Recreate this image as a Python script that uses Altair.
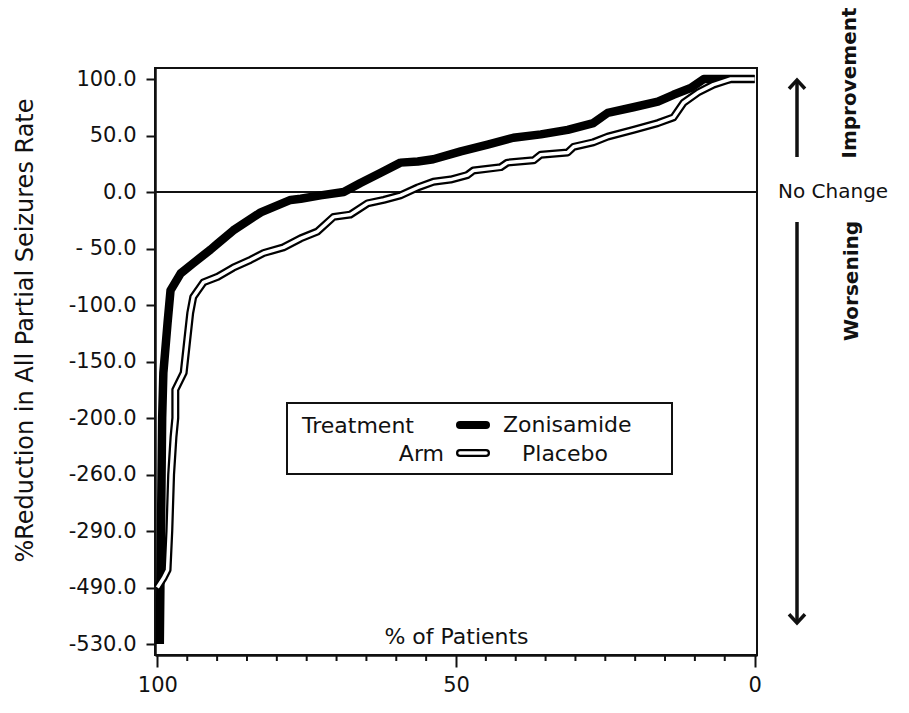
import altair as alt
import pandas as pd

# ---- data: % of patients (x) vs % reduction in seizure rate (y)
zon_x = [99.6, 99.5, 99.4, 99.3, 99.2, 99.0, 98.3, 97.8, 96.1, 94.0, 91.1, 90.0, 87.3, 82.7,
         77.7, 76.0, 72.7, 68.8, 66.0, 62.6, 59.3, 56.4, 53.8, 49.2, 44.7, 40.4, 35.8, 31.3,
         27.0, 24.6, 20.3, 16.2, 13.6, 10.7, 8.5, 0]
zon_y = [-530, -490, -290, -260, -200, -160, -116, -87, -72, -63, -51, -46, -34, -18,
         -7, -6, -3, 0, 8, 17, 26, 27, 29, 36, 42, 48, 51, 55,
         61, 70, 75, 80, 86, 92, 100, 100]

pla_x = [100, 99.0, 98.3, 98.0, 97.7, 97.3, 97.0, 97.0, 95.6, 95.0, 94.5, 94.0, 92.3, 89.9,
         87.3, 84.4, 82.2, 78.9, 76.0, 73.2, 70.5, 67.7, 64.8, 62.1, 59.3, 56.4, 53.8, 50.9,
         48.1, 47.1, 42.5, 41.4, 37.0, 35.8, 31.3, 30.3, 27.0, 24.6, 20.3, 16.2, 13.6, 11.9,
         9.5, 6.9, 4.0, 0]
pla_y = [-490, -457, -428, -290, -260, -220, -200, -175, -160, -131, -107, -93, -80, -75,
         -67, -60, -54, -49, -41, -35, -22, -20, -10, -7, -3, 4, 9, 11,
         15, 19, 22, 26, 28, 33, 35, 40, 44, 49, 55, 61, 66, 79,
         88, 95, 100, 100]

y_ticks = [100, 50, 0, -50, -100, -150, -200, -260, -290, -490, -530]
y_labels = ["100.0", "50.0", "0.0", "- 50.0", "-100.0", "-150.0", "-200.0",
            "-260.0", "-290.0", "-490.0", "-530.0"]
x_major = [100, 50, 0]
x_minor = [95, 90, 85, 80, 75, 70, 65, 60, 55, 45, 40, 35, 30, 25, 20, 15, 10, 5]
arms = ["Zonisamide", "Placebo"]
legend_title = ["Treatment", "Arm"]

# ---- layout / style
W, H = 602, 587
FONT = "DejaVu Sans"
INK = "#111111"

zon = pd.DataFrame({"pct": zon_x, "red": zon_y, "i": list(range(len(zon_x)))})
pla = pd.DataFrame({"pct": pla_x, "red": pla_y, "i": list(range(len(pla_x)))})

# piecewise (evenly spaced ticks) y scale
pad = 11
asc = sorted(y_ticks)
step = (H - 2 * pad) / (len(asc) - 1)
y_domain = ([asc[0] - (asc[1] - asc[0]) * pad / step] + asc +
            [asc[-1] + (asc[-1] - asc[-2]) * pad / step])
y_range = [H] + [H - pad - k * step for k in range(len(asc))] + [0]

label_expr = ("[" + ",".join(f"'{s}'" for s in y_labels) + "][indexof([" +
              ",".join(str(v) for v in y_ticks) + "], datum.value)]")

x_enc = alt.X(
    "pct:Q",
    scale=alt.Scale(domain=[-0.4, 100.4], reverse=True, nice=False, zero=False),
    axis=alt.Axis(values=x_major, format="d", tickSize=12, tickWidth=2, tickColor=INK,
                  domainColor=INK, domainWidth=2.5, labelFont=FONT, labelFontSize=21,
                  labelColor=INK, labelPadding=7, labelFlush=False, labelOverlap=False,
                  grid=False, title="% of Patients", titleFont=FONT, titleFontSize=22,
                  titleFontWeight="normal", titleColor=INK, titleY=-12,
                  titleBaseline="alphabetic"),
)
y_enc = alt.Y(
    "red:Q",
    scale=alt.Scale(domain=y_domain, range=y_range, nice=False, zero=False),
    axis=alt.Axis(values=y_ticks, labelExpr=label_expr, tickSize=9, tickWidth=2,
                  tickColor=INK, domainColor=INK, domainWidth=2.5, labelFont=FONT,
                  labelFontSize=21, labelColor=INK, labelPadding=10, labelOverlap=False,
                  grid=False, title="%Reduction in All Partial Seizures Rate",
                  titleFont=FONT, titleFontSize=24, titleFontWeight="normal",
                  titleColor=INK, titleX=-130, titleY=262, titleAngle=270,
                  titleAlign="center", titleBaseline="middle"),
)

zero_line = alt.Chart(pd.DataFrame({"red": [0]})).mark_rule(
    color=INK, strokeWidth=2).encode(y=y_enc)

zon_line = alt.Chart(zon).mark_line(color="black", strokeWidth=8.5, strokeJoin="round").encode(
    x=x_enc, y=y_enc, order="i:Q")
pla_outer = alt.Chart(pla).mark_line(color="black", strokeWidth=8, strokeJoin="round").encode(
    x=x_enc, y=y_enc, order="i:Q")
pla_inner = alt.Chart(pla).mark_line(color="white", strokeWidth=3.5, strokeJoin="round").encode(
    x=x_enc, y=y_enc, order="i:Q")

minor_ticks = alt.Chart(pd.DataFrame({"pct": x_minor})).mark_rule(
    color=INK, strokeWidth=2).encode(x=x_enc, y=alt.value(H), y2=alt.value(H + 6))


def text_at(txt, x, y, size, align="left", weight="normal", angle=0):
    return alt.Chart(pd.DataFrame({"t": [txt]})).mark_text(
        font=FONT, fontSize=size, fontWeight=weight, color=INK, align=align,
        baseline="middle", angle=angle).encode(
        text="t:N", x=alt.value(x), y=alt.value(y))


def seg(x1, x2, y, width, color, cap="round"):
    return alt.Chart(pd.DataFrame({"k": [0]})).mark_rule(
        color=color, strokeWidth=width, strokeCap=cap).encode(
        x=alt.value(x1), x2=alt.value(x2), y=alt.value(y))


# legend box
legend_box = alt.Chart(pd.DataFrame({"k": [0]})).mark_rect(
    fillOpacity=0, stroke=INK, strokeWidth=2).encode(
    x=alt.value(132), x2=alt.value(517), y=alt.value(335), y2=alt.value(406))
legend_layers = [
    legend_box,
    text_at(legend_title[0], 147, 358, 22),
    text_at(legend_title[1], 289, 386, 22, align="right"),
    seg(305, 331, 357, 8, "black"),
    text_at(arms[0], 348, 357, 22),
    seg(305, 331, 385, 8, "black"),
    seg(305, 331, 385, 3.5, "white"),
    text_at(arms[1], 367, 386, 22),
]

# right-hand annotation
def vrule(x, y1, y2):
    return alt.Chart(pd.DataFrame({"k": [0]})).mark_rule(
        color=INK, strokeWidth=3.5).encode(x=alt.value(x), y=alt.value(y1), y2=alt.value(y2))


def head(x, y, path):
    return alt.Chart(pd.DataFrame({"k": [0]})).mark_point(
        shape=path, filled=False, size=256, strokeWidth=3.5, color=INK, opacity=1).encode(
        x=alt.value(x), y=alt.value(y))


ann_layers = [
    vrule(642, 13, 89),
    head(642, 12, "M-1,1.1L0,0L1,1.1"),
    vrule(642, 154, 553),
    head(642, 555, "M-1,-1.1L0,0L1,-1.1"),
    text_at("No Change", 623, 124, 20),
    text_at("Improvement", 695, 15, 20, align="center", weight="bold", angle=270),
    text_at("Worsening", 697, 213, 20, align="center", weight="bold", angle=270),
]

chart = alt.layer(
    zero_line, zon_line, pla_outer, pla_inner, minor_ticks, *legend_layers, *ann_layers
).properties(
    width=W, height=H,
    autosize=alt.AutoSizeParams(type="none"),
    padding={"left": 147, "top": 60, "right": 140, "bottom": 48},
    background="white",
).configure_view(stroke=INK, strokeWidth=2)

chart.save("out.html", embed_options={"renderer": "svg", "actions": False})
